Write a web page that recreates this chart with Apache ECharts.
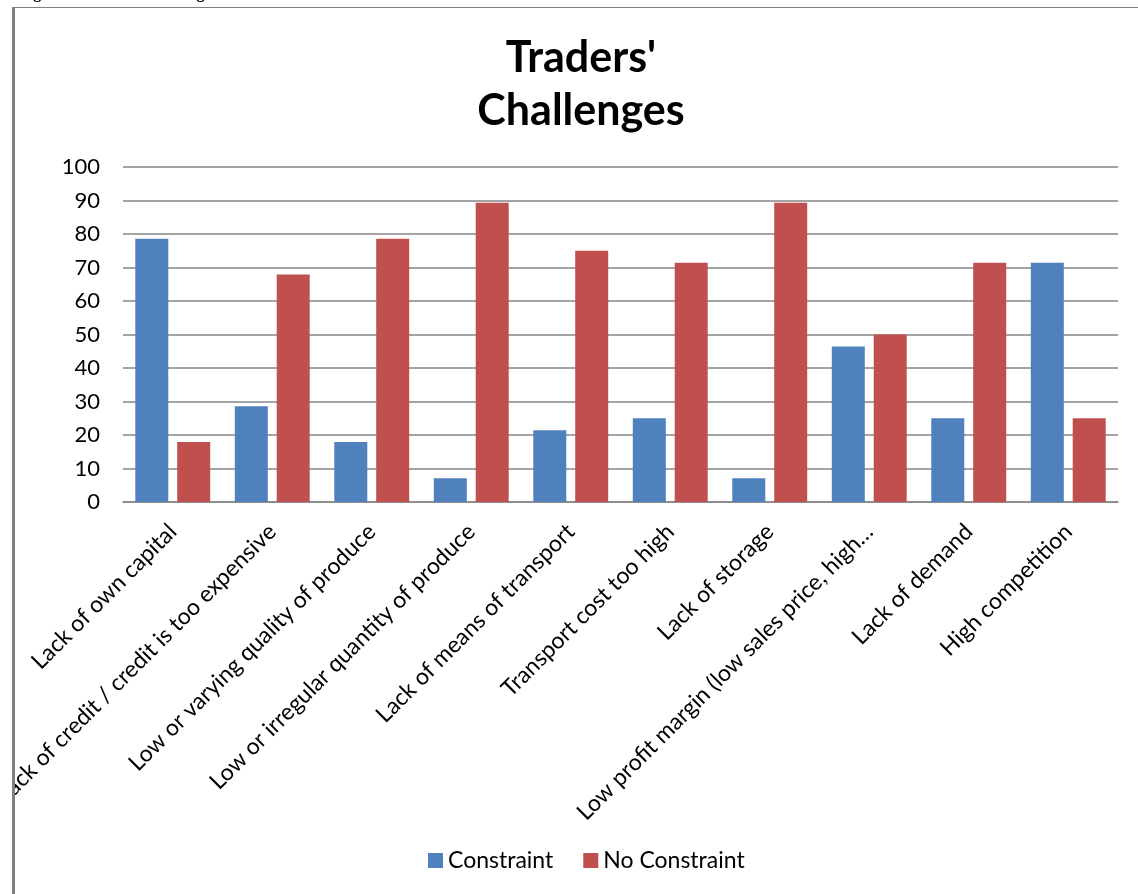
<!DOCTYPE html>
<html>
<head>
<meta charset="utf-8">
<script src="https://cdn.jsdelivr.net/npm/echarts@6/dist/echarts.min.js"></script>
<style>html,body{margin:0;padding:0;background:#fff;}#c{width:1138px;height:894px;}</style>
</head>
<body>
<div id="c"></div>
<script>
const categories = [
  "Lack of own capital",
  "Lack of credit / credit is too expensive",
  "Low or varying quality of produce",
  "Low or irregular quantity of produce",
  "Lack of means of transport",
  "Transport cost too high",
  "Lack of storage",
  "Low profit margin (low sales price, high…",
  "Lack of demand",
  "High competition"
];
const constraint = [78.6, 28.6, 17.9, 7.1, 21.4, 25.0, 7.1, 46.4, 25.0, 71.4];
const noConstraint = [17.9, 67.9, 78.6, 89.3, 75.0, 71.4, 89.3, 50.0, 71.4, 25.0];
const yTicks = { min: 0, max: 100, interval: 10 };
const titleText = "Traders'\nChallenges";
const captionText = "Figure 5: Traders' challenges.";

const chart = echarts.init(document.getElementById('c'), null, { renderer: 'canvas' });
const font = 'Lato, "Open Sans", sans-serif';
chart.setOption({
  animation: false,
  backgroundColor: '#fff',
  title: {
    text: titleText,
    left: 576, top: 27, textAlign: 'center',
    textStyle: { fontFamily: font, fontWeight: 'bold', fontSize: 43, lineHeight: 53, color: '#000' }
  },
  legend: {
    bottom: 17, left: 423,
    itemWidth: 15, itemHeight: 15, itemGap: 30,
    icon: 'rect',
    textStyle: { fontFamily: font, fontSize: 23, color: '#000' },
    data: ['Constraint', 'No Constraint']
  },
  grid: { left: 123, right: 20, top: 167, bottom: 392, containLabel: false, outerBoundsMode: 'none' },
  xAxis: {
    type: 'category',
    data: categories,
    axisLine: { lineStyle: { color: '#868686', width: 1.5 } },
    axisTick: { show: false },
    axisLabel: { rotate: 45, interval: 0, fontFamily: font, fontSize: 23, color: '#000', margin: 26 }
  },
  yAxis: {
    type: 'value', min: yTicks.min, max: yTicks.max, interval: yTicks.interval,
    axisLine: { show: false }, axisTick: { show: false },
    axisLabel: { fontFamily: font, fontSize: 22, color: '#000', margin: 23 },
    splitLine: { lineStyle: { color: '#868686', width: 1.5 } }
  },
  series: [
    { name: 'Constraint', type: 'bar', data: constraint, barWidth: 33, barGap: '27%', itemStyle: { color: '#4F81BD' } },
    { name: 'No Constraint', type: 'bar', data: noConstraint, barWidth: 33, itemStyle: { color: '#C0504D' } }
  ],
  graphic: [
    { type: 'rect', z: 100, shape: { x: 0, y: 0, width: 12, height: 894 }, style: { fill: '#fff' } },
    { type: 'rect', z: 101, shape: { x: 12, y: 7, width: 3, height: 887 }, style: { fill: '#808080' } },
    { type: 'rect', z: 101, shape: { x: 12, y: 7, width: 1126, height: 1 }, style: { fill: '#808080' } },
    { type: 'text', z: 101, x: 19, y: 2, style: { text: captionText, fontFamily: '"Liberation Serif", serif', fontWeight: 'bold', fontSize: 16, fill: '#000', verticalAlign: 'bottom' } }
  ]
});
</script>
</body>
</html>
